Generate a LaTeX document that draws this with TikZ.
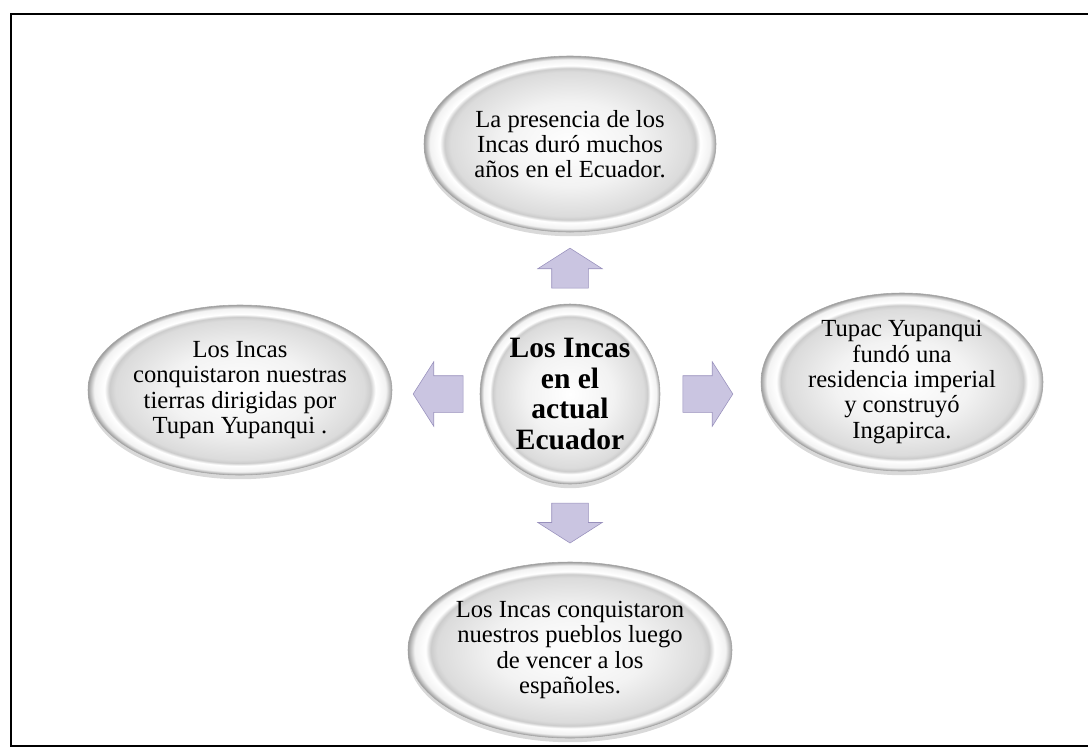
\documentclass[tikz,border=0pt]{standalone}
\usepackage{fontspec}
\setmainfont{Liberation Serif}
\usepackage{xcolor}
\usetikzlibrary{shapes.geometric, shapes.arrows, shadows}
\definecolor{lavfill}{RGB}{202,197,225}
\definecolor{lavline}{RGB}{152,144,188}
\pgfdeclareradialshading{bevel}{\pgfpoint{0bp}{0bp}}{color(0bp)=(white); color(12bp)=(white!95!black); color(20.5bp)=(white!86!black); color(21.5bp)=(white!80!black); color(22.3bp)=(white); color(24bp)=(white!95!black); color(25bp)=(white!62!black); color(50bp)=(white!62!black)}
\tikzstyle{bubble}     = [ellipse, shade, shading=bevel, draw=gray!70, inner sep=0pt, text centered, align=center, font=\fontsize{17.5}{18}\selectfont, drop shadow={shadow xshift=0pt, shadow yshift=-3pt, opacity=0.3}]
\tikzstyle{hub}        = [circle, shade, shading=bevel, draw=gray!70, minimum size=4.5cm, inner sep=0pt, align=center, font=\bfseries\fontsize{21}{22}\selectfont, drop shadow={shadow xshift=0pt, shadow yshift=-3pt, opacity=0.3}]
\tikzstyle{blockarrow} = [single arrow, draw=lavline, fill=lavfill, single arrow head extend=0.35cm, single arrow tip angle=115]
\tikzstyle{vblock}     = [blockarrow, inner xsep=0.45cm, inner ysep=0pt, minimum height=1.0cm]
\tikzstyle{hblock}     = [blockarrow, inner xsep=0pt, inner ysep=0.45cm, minimum height=1.25cm]

\begin{document}
\begin{tikzpicture}[node distance=3.2cm]
    \useasboundingbox (0,0) rectangle (27.2,-18.725);
    \draw[line width=1.4pt] (27.2,-18.65) -- (0.275,-18.65) -- (0.275,-0.35) -- (27.2,-0.35);

    \node (hub)       [hub] at (14.25,-9.85) {Los Incas\\en el\\actual\\Ecuador};
    \node (up)        [vblock, shape border rotate=90,  above of=hub, yshift=-0.2cm] {};
    \node (down)      [vblock, shape border rotate=270, below of=hub, yshift=0.12cm] {};
    \node (lft)       [hblock, shape border rotate=180, left of=hub, xshift=0.05cm] {};
    \node (rgt)       [hblock, right of=hub, xshift=0.1cm] {};

    % ellipses
    \node (presencia) [bubble, minimum width=7.3cm, minimum height=4.4cm, above of=up, yshift=0.05cm] {La presencia de los\\Incas duró muchos\\años en el  Ecuador.};
    \node (pueblos)   [bubble, minimum width=8.1cm, minimum height=4.4cm, below of=down, yshift=-0.12cm] {Los Incas conquistaron\\nuestros pueblos luego\\de vencer a los\\españoles.};
    \node (conquista) [bubble, minimum width=7.6cm, minimum height=4.25cm, left of=lft, xshift=-1.9cm, yshift=0.1cm] {Los Incas\\conquistaron nuestras\\tierras dirigidas por\\Tupan Yupanqui .};
    \node (fundacion) [bubble, minimum width=7.05cm, minimum height=4.45cm, right of=rgt, xshift=1.8cm, yshift=0.3cm] {Tupac Yupanqui\\fundó una\\residencia imperial\\y construyó\\Ingapirca.};
\end{tikzpicture}
\end{document}
